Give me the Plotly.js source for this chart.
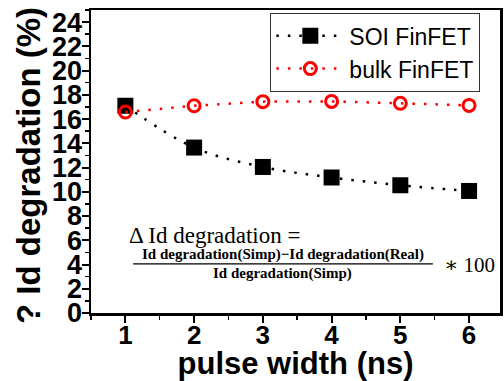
<!DOCTYPE html>
<html>
<head>
<meta charset="utf-8">
<script src="https://cdn.plot.ly/plotly-3.0.1.min.js"></script>
<style>
  html, body { margin: 0; padding: 0; background: #fff; }
  #chart { width: 504px; height: 381px; }
</style>
</head>
<body>
<div id="chart"></div>
<script>
// Pulse widths (ns) and Id degradation (%) for the two device types
const pulseWidth = [1, 2, 3, 4, 5, 6];
const soiFinFET = [17.1, 13.65, 12.05, 11.18, 10.54, 10.07];
const bulkFinFET = [16.58, 17.1, 17.44, 17.46, 17.3, 17.13];
const seriesNames = ['SOI FinFET', 'bulk FinFET'];
const yTitle = '? Id degradation (%)';

const sans = 'Liberation Sans, Arial, sans-serif';
const serif = 'Liberation Serif, DejaVu Serif, serif';

const traces = [
  {
    x: pulseWidth, y: soiFinFET, name: seriesNames[0],
    mode: 'lines+markers', type: 'scatter',
    line: { color: '#000', width: 2.5, dash: '2.5px,9px', shape: 'spline' },
    marker: { symbol: 'square', size: 16, color: '#000' }
  },
  {
    x: pulseWidth, y: bulkFinFET, name: seriesNames[1],
    mode: 'lines+markers', type: 'scatter',
    line: { color: '#ff0000', width: 2.5, dash: '2.5px,9px' },
    marker: { symbol: 'circle-open', size: 12, color: '#ff0000', line: { width: 3, color: '#ff0000' } }
  }
];

const layout = {
  width: 504, height: 381,
  margin: { l: 91, r: 4, t: 10, b: 68 },
  paper_bgcolor: '#fff', plot_bgcolor: '#fff',
  showlegend: true,
  legend: {
    x: 0.438, y: 0.99, xanchor: 'left', yanchor: 'top',
    bgcolor: '#fff', bordercolor: '#333', borderwidth: 1.2,
    font: { family: sans, size: 23, color: '#000' },
    itemwidth: 68, tracegroupgap: 0
  },
  xaxis: {
    range: [0.5, 6.45], tickmode: 'linear', tick0: 0, dtick: 1,
    ticks: 'outside', ticklen: 7, tickwidth: 2, tickcolor: '#000',
    minor: { dtick: 0.5, ticks: 'outside', ticklen: 4, tickwidth: 1.5, tickcolor: '#000' },
    showline: true, linewidth: 2.5, linecolor: '#000', mirror: true,
    showgrid: false, zeroline: false,
    tickfont: { family: sans, size: 26, color: '#000', weight: 'bold' },
    ticklabelstandoff: -10,
    title: { text: '<b>pulse width (ns)</b>', font: { family: sans, size: 31, color: '#000' } },
    automargin: false
  },
  yaxis: {
    range: [0, 25], tickmode: 'linear', tick0: 0, dtick: 2,
    ticks: 'outside', ticklen: 7, tickwidth: 2, tickcolor: '#000',
    minor: { dtick: 1, ticks: 'outside', ticklen: 4, tickwidth: 1.5, tickcolor: '#000' },
    showline: true, linewidth: 2.5, linecolor: '#000', mirror: true,
    showgrid: false, zeroline: false,
    tickfont: { family: sans, size: 27, color: '#000', weight: 'bold' },
    ticklabelstandoff: -6,
    automargin: false
  },
  annotations: [
    // vertical axis title, placed left of the tick labels
    { xref: 'paper', yref: 'paper', x: -0.154, y: 0.485, xanchor: 'center', yanchor: 'middle',
      textangle: -90, text: '<b>' + yTitle + '</b>', showarrow: false,
      font: { family: sans, size: 33, color: '#000' } },
    { xref: 'paper', yref: 'paper', x: 0.088, y: 0.256, xanchor: 'left', yanchor: 'middle',
      text: '\u0394 Id degradation =', showarrow: false,
      font: { family: serif, size: 23, color: '#000' } },
    { xref: 'paper', yref: 'paper', x: 0.469, y: 0.192, xanchor: 'center', yanchor: 'middle',
      text: '<b>Id degradation(Simp)\u2212Id degradation(Real)</b>', showarrow: false,
      font: { family: serif, size: 15, color: '#000' } },
    { xref: 'paper', yref: 'paper', x: 0.469, y: 0.131, xanchor: 'center', yanchor: 'middle',
      text: '<b>Id degradation(Simp)</b>', showarrow: false,
      font: { family: serif, size: 15, color: '#000' } },
    { xref: 'paper', yref: 'paper', x: 0.858, y: 0.16, xanchor: 'left', yanchor: 'middle',
      text: '\u2217 100', showarrow: false,
      font: { family: serif, size: 21, color: '#000' } }
  ],
  shapes: [
    // fraction bar of the formula
    { type: 'line', xref: 'paper', yref: 'paper', x0: 0.103, x1: 0.836, y0: 0.162, y1: 0.162,
      line: { color: '#000', width: 1.2 } }
  ]
};

Plotly.newPlot('chart', traces, layout, { displayModeBar: false, staticPlot: true });
</script>
</body>
</html>
